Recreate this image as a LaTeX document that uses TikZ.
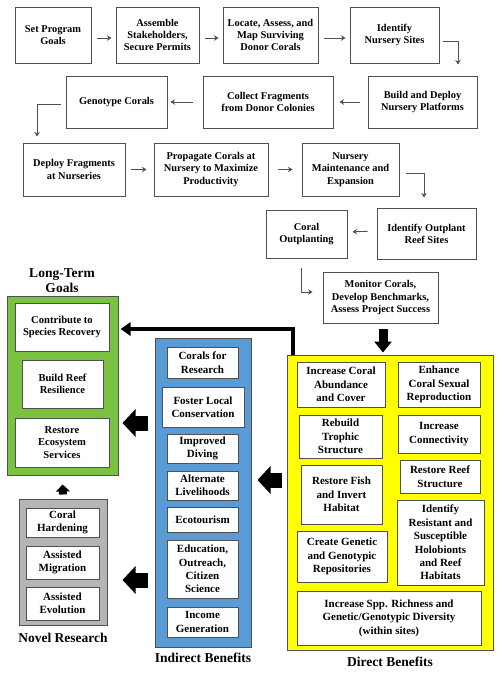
\documentclass[tikz,border=0pt]{standalone}
\usepackage{fontspec}
\setmainfont{Liberation Serif}
\usepackage{tikz}
\usetikzlibrary{arrows.meta}
\definecolor{goalgreen}{HTML}{7CC242}
\definecolor{benefitblue}{HTML}{5B9BD5}
\definecolor{researchgray}{HTML}{B5B5B5}
\definecolor{directyellow}{HTML}{FFFF00}
\definecolor{edgegray}{HTML}{505050}

\begin{document}
\begin{tikzpicture}[x=1pt,y=-1pt,
  stepbox/.style={draw=edgegray,line width=1pt,fill=white,align=center,inner sep=1pt,
    font=\fontsize{10.4}{12.2}\selectfont\bfseries},
  subbox/.style={stepbox,font=\fontsize{11}{13.4}\selectfont\bfseries},
  goalbox/.style={stepbox,font=\fontsize{10.6}{12.6}\selectfont\bfseries},
  panel/.style={draw=edgegray,line width=1pt},
  paneltitle/.style={align=center,font=\fontsize{13.5}{15.5}\selectfont\bfseries},
  flow/.style={draw=edgegray,line width=0.9pt,-{Stealth[length=4.5pt,width=5.5pt]}},
  bigarrow/.style={line width=15pt,-{Triangle[length=13pt,width=27pt]}},
  wide/.style 2 args={minimum width=#1pt,minimum height=#2pt}]
\useasboundingbox (0,0) rectangle (500,673);

% process steps
\node[stepbox,wide={76}{56}] (goals) at (53,35) {Set Program\\Goals};
\node[stepbox,wide={83}{56}] (stake) at (157.5,35) {Assemble\\Stakeholders,\\Secure Permits};
\node[stepbox,wide={95}{56}] (locate) at (270.5,35) {Locate, Assess, and\\Map Surviving\\Donor Corals};
\node[stepbox,wide={89}{56}] (sites) at (394.5,35) {Identify\\Nursery Sites};
\node[stepbox,wide={109}{52}] (platforms) at (422.5,102) {Build and Deploy\\Nursery Platforms};
\node[stepbox,wide={130}{52}] (collect) at (268,102) {Collect Fragments\\from Donor Colonies};
\node[stepbox,wide={101}{52}] (genotype) at (116.5,102) {Genotype Corals};
\node[stepbox,wide={102}{53}] (deploy) at (74,169.5) {Deploy Fragments\\at Nurseries};
\node[stepbox,wide={114}{53}] (propagate) at (211,169.5) {Propagate Corals at\\Nursery to Maximize\\Productivity};
\node[stepbox,wide={97}{53}] (maint) at (350.5,169.5) {Nursery\\Maintenance and\\Expansion};
\node[stepbox,wide={99}{51}] (outsites) at (426.5,233.5) {Identify Outplant\\Reef Sites};
\node[stepbox,wide={81}{48}] (outplant) at (306.5,234) {Coral\\Outplanting};
\node[stepbox,wide={115}{51}] (monitor) at (380.5,297.5) {Monitor Corals,\\Develop Benchmarks,\\Assess Project Success};

\draw[flow,shorten <=5pt,shorten >=4pt] ([yshift=-3pt]goals.east) -- ([yshift=-3pt]stake.west);
\draw[flow,shorten <=5pt,shorten >=4pt] ([yshift=-3pt]stake.east) -- ([yshift=-3pt]locate.west);
\draw[flow,shorten <=5pt,shorten >=4pt] ([yshift=-3pt]locate.east) -- ([yshift=-3pt]sites.west);
\draw[flow,shorten <=3pt,shorten >=11pt] ([yshift=-6pt]sites.east) -| ([xshift=35.5pt]platforms.north);
\draw[flow,shorten <=8pt,shorten >=6pt] (platforms.west) -- (collect.east);
\draw[flow,shorten <=10pt,shorten >=3pt] (collect.west) -- (genotype.east);
\draw[flow,shorten <=5pt,shorten >=6pt] ([yshift=-2pt]genotype.west) -| ([xshift=-37pt]deploy.north);
\draw[flow,shorten <=5pt,shorten >=7pt] (deploy.east) -- (propagate.west);
\draw[flow,shorten <=9pt,shorten >=9pt] (propagate.east) -- (maint.west);
\draw[flow,shorten <=6pt,shorten >=10pt] ([yshift=-3.5pt]maint.east) -| ([xshift=-2.5pt]outsites.north);
\draw[flow,shorten <=9pt,shorten >=5pt] ([yshift=2.5pt]outsites.west) -- ([yshift=2pt]outplant.east);
\draw[flow,shorten <=9pt,shorten >=10pt] ([xshift=-5.5pt]outplant.south) |- ([yshift=5.5pt]monitor.west);

% long-term goals
\node[panel,fill=goalgreen,wide={111}{179}] (green) at (62.5,385.5) {};
\node[paneltitle] (greentitle) at (62,280.5) {Long-Term\\Goals};
\node[goalbox,wide={94}{48}] (recovery) at (62,327) {Contribute to\\Species Recovery};
\node[goalbox,wide={81}{48}] (resilience) at (62.5,384) {Build Reef\\Resilience};
\node[goalbox,wide={94}{49}] (services) at (62,442.5) {Restore\\Ecosystem\\Services};

% novel research
\node[panel,fill=researchgray,wide={88}{126}] (gray) at (63,562) {};
\node[subbox,wide={73}{29}] (hardening) at (62.5,522.5) {Coral\\Hardening};
\node[subbox,wide={73}{33}] (migration) at (62.5,562.5) {Assisted\\Migration};
\node[subbox,wide={73}{33}] (evolution) at (62.5,603.5) {Assisted\\Evolution};
\node[paneltitle] (graytitle) at (63,638) {Novel Research};

% indirect benefits
\node[panel,fill=benefitblue,wide={96}{309}] (blue) at (203,492.5) {};
\node[subbox,wide={71}{31}] (research) at (202.5,362.5) {Corals for\\Research};
\node[subbox,wide={82}{40}] (foster) at (203,407) {Foster Local\\Conservation};
\node[subbox,wide={71}{29}] (diving) at (202.5,448.5) {Improved\\Diving};
\node[subbox,wide={71}{29}] (livelihoods) at (202.5,485.5) {Alternate\\Livelihoods};
\node[subbox,wide={71}{25}] (ecotourism) at (202.5,519.5) {Ecotourism};
\node[subbox,wide={71}{58}] (education) at (202.5,569) {Education,\\Outreach,\\Citizen\\Science};
\node[subbox,wide={71}{30}] (income) at (202.5,622) {Income\\Generation};
\node[paneltitle] (bluetitle) at (203,658) {Indirect Benefits};

% direct benefits
\node[panel,fill=directyellow,wide={206}{295}] (yellow) at (390,502.5) {};
\node[subbox,wide={88}{45}] (abundance) at (341,384.5) {Increase Coral\\Abundance\\and Cover};
\node[subbox,wide={82}{45}] (sexual) at (439,384.5) {Enhance\\Coral Sexual\\Reproduction};
\node[subbox,wide={83}{43}] (trophic) at (340.5,436.5) {Rebuild\\Trophic\\Structure};
\node[subbox,wide={82}{38}] (connect) at (439,434) {Increase\\Connectivity};
\node[subbox,wide={81}{59}] (fish) at (341.5,494.5) {Restore Fish\\and Invert\\Habitat};
\node[subbox,wide={80}{33}] (reefstruct) at (440,476.5) {Restore Reef\\Structure};
\node[subbox,wide={90}{51}] (genetic) at (342,556.5) {Create Genetic\\and Genotypic\\Repositories};
\node[subbox,wide={87}{85}] (resistant) at (440.5,542.5) {Identify\\Resistant and\\Susceptible\\Holobionts\\and Reef\\Habitats};
\node[subbox,wide={184}{54}] (richness) at (389,618) {Increase Spp. Richness and\\Genetic/Genotypic Diversity\\(within sites)};
\node[paneltitle] (yellowtitle) at (390,662) {Direct Benefits};

% links between panels
\draw[line width=9pt,-{Triangle[length=11pt,width=17pt]},shorten <=5pt,shorten >=2pt] ([xshift=2.5pt]monitor.south) -- ([xshift=-7pt]yellow.north);
\draw[line width=4pt,-{Triangle[length=10pt,width=13pt]},shorten >=2pt] ([xshift=6pt]yellow.north west) |- (green.east |- 0,329);
\draw[bigarrow,shorten <=5pt,shorten >=6pt] (yellow.west |- 0,480) -- (blue.east |- 0,480);
\draw[bigarrow,shorten <=7pt,shorten >=4pt] (blue.west |- 0,423) -- (green.east |- 0,423);
\draw[bigarrow,shorten <=7pt,shorten >=15pt] (blue.west |- 0,580) -- (gray.east |- 0,580);
\draw[line width=8pt,-{Triangle[length=7pt,width=14pt]},shorten <=4pt,shorten >=9pt] (gray.north) -- (green.south);
\end{tikzpicture}
\end{document}
